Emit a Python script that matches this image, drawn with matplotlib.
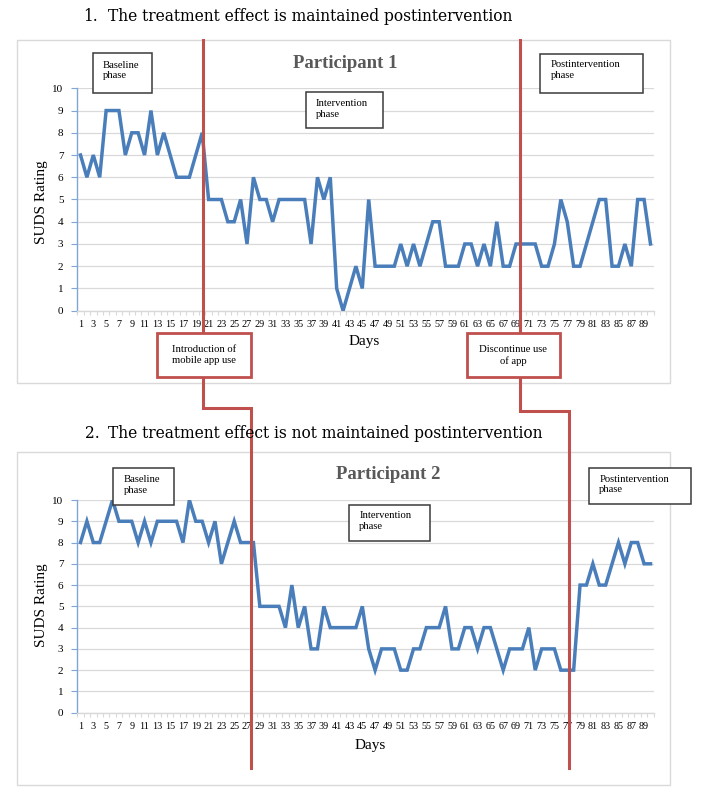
import matplotlib
matplotlib.use("Agg")
import matplotlib.pyplot as plt
from matplotlib.patches import Rectangle
from matplotlib.lines import Line2D

# ---------------- data ----------------
days = list(range(1, 91))
p1_suds = [7, 6, 7, 6, 9, 9, 9, 7, 8, 8, 7, 9, 7, 8, 7, 6, 6, 6, 7, 8,
           5, 5, 5, 4, 4, 5, 3, 6, 5, 5, 4, 5, 5, 5, 5, 5, 3, 6, 5, 6,
           1, 0, 1, 2, 1, 5, 2, 2, 2, 2, 3, 2, 3, 2, 3, 4, 4, 2, 2, 2,
           3, 3, 2, 3, 2, 4, 2, 2, 3, 3, 3, 3, 2, 2, 3, 5, 4, 2, 2, 3,
           4, 5, 5, 2, 2, 3, 2, 5, 5, 3]
p2_suds = [8, 9, 8, 8, 9, 10, 9, 9, 9, 8, 9, 8, 9, 9, 9, 9, 8, 10, 9, 9,
           8, 9, 7, 8, 9, 8, 8, 8, 5, 5, 5, 5, 4, 6, 4, 5, 3, 3, 5, 4,
           4, 4, 4, 4, 5, 3, 2, 3, 3, 3, 2, 2, 3, 3, 4, 4, 4, 5, 3, 3,
           4, 4, 3, 4, 4, 3, 2, 3, 3, 3, 4, 2, 3, 3, 3, 2, 2, 2, 6, 6,
           7, 6, 6, 7, 8, 7, 8, 8, 7, 7]
y_ticks = list(range(0, 11))
x_tick_labels = [str(d) for d in days if d % 2 == 1]

W, H = 709, 800
fig = plt.figure(figsize=(W / 100, H / 100), dpi=100)
fig.patch.set_facecolor("white")

SERIF = ["Liberation Serif", "DejaVu Serif"]
HEAD = ["DejaVu Serif"]
BLUE = "#4A7EBB"
RED = "#C0504D"
GRID = "#D9D9D9"


def fx(x):
    return x / W


def fy(y):
    return 1 - y / H


def add_axes_px(x0, y0, x1, y1):
    return fig.add_axes([fx(x0), fy(y1), (x1 - x0) / W, (y1 - y0) / H])


def make_panel(ax, values):
    ax.plot(days, values, color=BLUE, lw=2.5, solid_joinstyle="miter", zorder=3)
    ax.set_xlim(0.5, 90.5)
    ax.set_ylim(0, 10)
    ax.set_yticks(y_ticks)
    ax.set_yticklabels([str(t) for t in y_ticks], fontfamily=SERIF, fontsize=8)
    ax.set_xticks([d for d in days if d % 2 == 1])
    ax.set_xticklabels(x_tick_labels, fontfamily=SERIF, fontsize=7.3)
    ax.set_xticks([d + 0.5 for d in range(0, 91)], minor=True)
    ax.tick_params(axis="x", which="major", length=0, pad=7)
    ax.tick_params(axis="x", which="minor", length=3, color=GRID, width=0.8)
    ax.tick_params(axis="y", length=4, color="#7FA6D6", width=0.8, pad=6)
    ax.grid(axis="y", color=GRID, lw=0.9)
    ax.set_axisbelow(True)
    for s in ["top", "right"]:
        ax.spines[s].set_visible(False)
    ax.spines["left"].set_color("#7FA6D6")
    ax.spines["left"].set_linewidth(1.0)
    ax.spines["bottom"].set_color(GRID)
    ax.spines["bottom"].set_linewidth(1.0)


def frame(x0, y0, x1, y1):
    fig.add_artist(Rectangle((fx(x0), fy(y1)), (x1 - x0) / W, (y1 - y0) / H,
                             transform=fig.transFigure, fill=False,
                             edgecolor=GRID, lw=1.0, zorder=0.5))


def phase_box(x0, y0, x1, y1, text, tx, ty):
    fig.add_artist(Rectangle((fx(x0), fy(y1)), (x1 - x0) / W, (y1 - y0) / H,
                             transform=fig.transFigure, facecolor="white",
                             edgecolor="#3A3A3A", lw=1.1, zorder=4))
    fig.text(fx(tx), fy(ty), text, ha="left", va="top", fontfamily=SERIF,
             fontsize=7.7, linespacing=1.25, zorder=5)


def red_box(x0, y0, x1, y1, text):
    fig.add_artist(Rectangle((fx(x0), fy(y1)), (x1 - x0) / W, (y1 - y0) / H,
                             transform=fig.transFigure, facecolor="white",
                             edgecolor=RED, lw=2.0, zorder=4))
    fig.text(fx((x0 + x1) / 2), fy((y0 + y1) / 2), text, ha="center",
             va="center", fontfamily=SERIF, fontsize=7.7, linespacing=1.3,
             zorder=5)


def red_path(xs, ys):
    fig.add_artist(Line2D([fx(x) for x in xs], [fy(y) for y in ys],
                          transform=fig.transFigure, color=RED, lw=2.2,
                          solid_joinstyle="miter", zorder=2))


# ---------------- panel 1 ----------------
frame(17.3, 40, 670, 383)
ax1 = add_axes_px(77.3, 88.3, 653.7, 310.7)
make_panel(ax1, p1_suds)

fig.text(fx(83), fy(21), "1.", fontfamily=HEAD, fontsize=11.2, va="baseline")
fig.text(fx(108), fy(21), "The treatment effect is maintained postintervention",
         fontfamily=HEAD, fontsize=11.2, va="baseline")
fig.text(fx(345), fy(68), "Participant 1", ha="center", va="baseline",
         fontfamily=SERIF, fontweight="bold", fontsize=13.5, color="#595959")
fig.text(fx(42), fy(202), "SUDS Rating", rotation=90, ha="center", va="center",
         fontfamily=SERIF, fontsize=11)
fig.text(fx(364), fy(342), "Days", ha="center", va="center",
         fontfamily=SERIF, fontsize=11)

phase_box(92.7, 53.3, 151.7, 93.3, "Baseline\nphase", 102.7, 60.5)
phase_box(305.7, 92.3, 383, 128.3, "Intervention\nphase", 315.6, 99)
phase_box(540, 54, 642.7, 93.3, "Postintervention\nphase", 550.7, 60)

# ---------------- panel 2 ----------------
frame(17.3, 451.7, 670, 785)
ax2 = add_axes_px(77.3, 500, 653.7, 712.7)
make_panel(ax2, p2_suds)

fig.text(fx(85), fy(437.5), "2.", fontfamily=HEAD, fontsize=11.2, va="baseline")
fig.text(fx(108), fy(437.5), "The treatment effect is not maintained postintervention",
         fontfamily=HEAD, fontsize=11.2, va="baseline")
fig.text(fx(388), fy(479), "Participant 2", ha="center", va="baseline",
         fontfamily=SERIF, fontweight="bold", fontsize=13.5, color="#595959")
fig.text(fx(42), fy(605), "SUDS Rating", rotation=90, ha="center", va="center",
         fontfamily=SERIF, fontsize=11)
fig.text(fx(370), fy(746), "Days", ha="center", va="center",
         fontfamily=SERIF, fontsize=11)

phase_box(113.3, 468.3, 174, 504.7, "Baseline\nphase", 124, 475)
phase_box(348.7, 505, 430, 541, "Intervention\nphase", 359.3, 511.5)
phase_box(588.7, 467.7, 691.3, 504.3, "Postintervention\nphase", 599.3, 474.5)

# ---------------- connecting red lines and boxes ----------------
red_path([202.5, 202.5], [40, 333])
red_path([202.5, 202.5, 250.5, 250.5], [377, 408.3, 408.3, 768])
red_path([519.5, 519.5], [40, 333])
red_path([519.5, 519.5, 569.3, 569.3], [377, 410.5, 410.5, 768])

red_box(157.3, 333.3, 250.7, 377.3, "Introduction of\nmobile app use")
red_box(466.7, 333.3, 560, 377.3, "Discontinue use\nof app")

fig.savefig("out.png", dpi=100, facecolor="white")
